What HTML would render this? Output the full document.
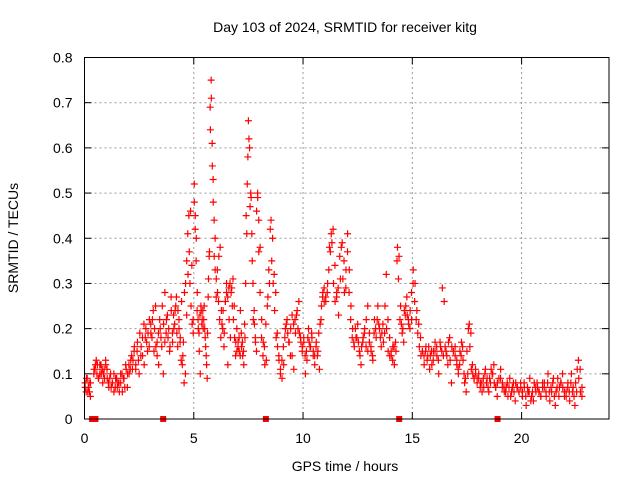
<!DOCTYPE html>
<html><head><meta charset="utf-8"><style>
body{margin:0;background:#fff}
svg{display:block;font-family:"Liberation Sans",sans-serif}
</style></head><body>
<svg id="chart" width="640" height="480">
<rect width="640" height="480" fill="#fff"/>
<text x="345" y="32" text-anchor="middle" font-size="14">Day 103 of 2024, SRMTID for receiver kitg</text>
<text x="345" y="471" text-anchor="middle" font-size="14">GPS time / hours</text>
<text transform="translate(18,238) rotate(-90)" text-anchor="middle" font-size="14">SRMTID / TECUs</text>
<g id="grid"></g><g id="axes"></g><g id="marks"></g>
<rect x="84.5" y="57.5" width="524.5" height="361.5" fill="none" stroke="#000"/>
</svg>
<script>
const xTicks=[0,5,10,15,20];
const yTicks=[0,0.1,0.2,0.3,0.4,0.5,0.6,0.7,0.8];
const yTickLabels=["0","0.1","0.2","0.3","0.4","0.5","0.6","0.7","0.8"];
const segStart=[0,0.4,1,2,3,4,5,6,7,8,9,10,11,12,13,14,15,16,17,18,19,20,21,22];
const segEnd=[0.3,1,2,3,4,5,6,7,8,9,10,11,12,13,14,15,16,17,18,19,20,21,22,22.8];
const segVals=[
[0.07,0.09,0.06,0.08,0.05],
[0.11,0.12,0.10,0.09,0.12,0.10,0.08,0.11,0.13],
[0.09,0.07,0.10,0.08,0.06,0.09,0.07,0.08,0.10,0.06,0.09,0.12,0.07],
[0.10,0.13,0.11,0.15,0.12,0.17,0.10,0.14,0.18,0.12,0.20,0.15,0.16],
[0.19,0.22,0.15,0.25,0.17,0.12,0.20,0.16,0.10,0.28,0.22,0.18,0.15,0.27],
[0.17,0.20,0.24,0.27,0.16,0.22,0.18,0.26,0.14,0.08,0.10,0.23,0.32,0.37,0.46,0.34,0.22],
[0.52,0.45,0.40,0.28,0.20,0.15,0.10,0.24,0.22,0.20,0.25,0.18,0.14,0.09,0.27,0.36,0.69,0.75,0.61,0.53,0.44,0.40],
[0.31,0.28,0.36,0.38,0.24,0.20,0.16,0.26,0.30,0.12,0.22,0.18,0.29,0.31,0.25,0.14,0.20],
[0.17,0.15,0.24,0.16,0.14,0.12,0.18,0.45,0.52,0.66,0.60,0.50,0.41,0.30,0.24,0.18,0.15,0.50,0.44],
[0.38,0.22,0.17,0.12,0.13,0.27,0.30,0.44,0.40,0.32,0.28,0.19,0.14,0.10],
[0.09,0.12,0.20,0.22,0.17,0.14,0.23,0.11,0.19,0.24,0.26,0.18,0.15],
[0.17,0.10,0.13,0.20,0.16,0.19,0.14,0.12,0.17,0.15,0.11,0.22,0.27,0.29],
[0.26,0.30,0.38,0.41,0.42,0.34,0.28,0.23,0.31,0.39,0.35,0.29],
[0.41,0.33,0.25,0.20,0.16,0.18,0.21,0.15,0.12,0.17,0.19,0.16,0.25],
[0.19,0.15,0.13,0.22,0.18,0.25,0.20,0.16,0.21,0.19,0.32,0.22,0.18],
[0.14,0.16,0.12,0.15,0.38,0.36,0.25,0.19,0.17,0.23,0.27,0.22,0.20,0.28],
[0.33,0.30,0.24,0.21,0.18,0.15,0.12,0.16,0.14,0.11,0.15,0.13],
[0.17,0.14,0.10,0.16,0.29,0.26,0.15,0.12,0.18,0.08,0.15,0.16],
[0.12,0.10,0.15,0.17,0.13,0.08,0.06,0.10,0.21,0.19,0.12,0.09,0.11,0.08],
[0.10,0.08,0.06,0.07,0.11,0.09,0.06,0.08,0.10,0.12,0.07,0.05,0.09],
[0.11,0.08,0.06,0.07,0.05,0.09,0.06,0.08,0.04,0.07,0.06,0.08],
[0.05,0.07,0.03,0.06,0.09,0.05,0.04,0.07,0.08,0.06,0.05,0.07],
[0.08,0.05,0.10,0.04,0.06,0.09,0.03,0.07,0.05,0.08,0.10,0.06],
[0.05,0.08,0.04,0.10,0.07,0.03,0.06,0.13,0.11,0.05]
];
const segVals2=[
[0.08,0.06,0.09,0.07,0.06,0.08],
[0.10,0.11,0.13,0.12,0.09,0.10,0.12,0.11,0.10,0.09,0.12],
[0.11,0.08,0.09,0.07,0.08,0.10,0.07,0.09,0.08,0.06,0.08,0.10,0.09,0.07,0.11,0.10],
[0.12,0.11,0.14,0.13,0.16,0.11,0.15,0.13,0.19,0.16,0.14,0.21,0.18,0.17,0.19,0.22],
[0.21,0.18,0.24,0.20,0.16,0.14,0.19,0.22,0.18,0.25,0.21,0.17,0.19,0.23,0.20,0.16,0.24],
[0.19,0.23,0.21,0.25,0.19,0.24,0.20,0.17,0.13,0.12,0.17,0.28,0.30,0.35,0.41,0.45,0.30,0.25,0.21,0.19],
[0.48,0.42,0.35,0.24,0.22,0.19,0.23,0.25,0.21,0.24,0.22,0.20,0.16,0.12,0.19,0.31,0.37,0.64,0.71,0.56,0.48,0.36,0.33],
[0.27,0.33,0.26,0.22,0.18,0.21,0.24,0.19,0.26,0.28,0.27,0.29,0.30,0.28,0.25,0.22,0.18,0.17,0.15],
[0.16,0.18,0.14,0.19,0.17,0.15,0.21,0.30,0.41,0.58,0.62,0.47,0.49,0.35,0.22,0.21,0.17,0.46,0.49,0.37],
[0.28,0.18,0.14,0.16,0.21,0.25,0.33,0.42,0.35,0.30,0.24,0.18,0.16,0.13,0.11],
[0.13,0.16,0.18,0.21,0.19,0.17,0.20,0.14,0.21,0.22,0.23,0.20,0.19,0.17,0.16],
[0.18,0.14,0.15,0.18,0.17,0.16,0.18,0.15,0.14,0.16,0.14,0.19,0.21,0.25,0.28,0.26],
[0.27,0.28,0.33,0.37,0.39,0.30,0.26,0.27,0.29,0.36,0.38,0.31,0.28,0.33],
[0.37,0.28,0.22,0.18,0.17,0.20,0.18,0.17,0.14,0.16,0.18,0.20,0.22,0.15],
[0.17,0.16,0.14,0.19,0.20,0.22,0.21,0.18,0.19,0.17,0.25,0.20,0.15,0.14],
[0.15,0.13,0.16,0.17,0.35,0.31,0.22,0.21,0.20,0.24,0.25,0.23,0.21,0.24,0.22],
[0.30,0.26,0.22,0.19,0.16,0.14,0.15,0.14,0.15,0.13,0.16,0.14,0.12,0.15],
[0.15,0.16,0.13,0.17,0.15,0.14,0.16,0.14,0.17,0.13,0.16,0.15,0.14],
[0.13,0.11,0.12,0.14,0.16,0.10,0.09,0.15,0.20,0.16,0.11,0.10,0.09,0.10,0.09],
[0.09,0.07,0.08,0.09,0.10,0.08,0.07,0.09,0.11,0.10,0.08,0.07,0.08,0.09],
[0.09,0.07,0.07,0.06,0.08,0.07,0.05,0.07,0.06,0.08,0.07,0.06,0.07],
[0.06,0.08,0.05,0.07,0.06,0.04,0.06,0.08,0.06,0.07,0.06,0.05,0.08],
[0.07,0.06,0.08,0.06,0.07,0.08,0.05,0.06,0.09,0.07,0.08,0.07,0.05],
[0.06,0.07,0.06,0.08,0.06,0.05,0.08,0.11,0.09,0.06,0.07]
];
const gapTimes=[0.35,0.5,3.6,8.3,14.4,18.9];
const X0=84.5,X1=609,Y0=419,Y1=57.5;
const xs=t=>X0+(t/24)*(X1-X0);
const ys=v=>Y0-(v/0.8)*(Y0-Y1);
const NS="http://www.w3.org/2000/svg";
function mk(tag,attrs,parent){const e=document.createElementNS(NS,tag);for(const k in attrs)e.setAttribute(k,attrs[k]);parent.appendChild(e);return e;}
const grid=document.getElementById('grid'),axes=document.getElementById('axes'),marks=document.getElementById('marks');
yTicks.forEach((v,i)=>{const y=ys(v);
 if(i>0&&i<yTicks.length-1){const g=mk('line',{x1:X0,x2:X1,y1:y,y2:y,stroke:'#999','stroke-dasharray':'2,3'},grid);
 
 }
 mk('line',{x1:X0,x2:X0+7,y1:y,y2:y,stroke:'#000'},axes);mk('line',{x1:X1,x2:X1-7,y1:y,y2:y,stroke:'#000'},axes);
 const t=mk('text',{x:X0-12,y:y+5,'text-anchor':'end','font-size':14},axes);t.textContent=yTickLabels[i];
 
 });
xTicks.forEach(v=>{const x=xs(v);
 if(v>0){const g=mk('line',{x1:x,x2:x,y1:Y0,y2:Y1,stroke:'#999','stroke-dasharray':'2,3'},grid);
 
 }
 mk('line',{x1:x,x2:x,y1:Y0,y2:Y0-7,stroke:'#000'},axes);mk('line',{x1:x,x2:x,y1:Y1,y2:Y1+7,stroke:'#000'},axes);
 const t=mk('text',{x:x,y:Y0+24,'text-anchor':'middle','font-size':14},axes);t.textContent=String(v);
 
 });
let d='';
[segVals,segVals2].forEach(set=>{
set.forEach((vals,s)=>{const a=segStart[s],b=segEnd[s];vals.forEach((v,i)=>{const t=a+(b-a)*(i+0.5)/vals.length;const x=xs(t),y=ys(v);
 d+=`M${x-3.5},${y}h7M${x},${y-3.5}v7`;});});});
const p=mk('path',{d:d,stroke:'#f00','stroke-width':1.2,fill:'none'},marks);


gapTimes.forEach(t=>{const r=mk('rect',{x:xs(t)-3,y:Y0-3,width:6,height:6,fill:'#f00'},marks);
 
 });
</script>
</body></html>
